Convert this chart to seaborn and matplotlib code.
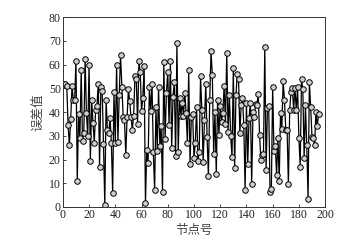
import numpy as np
import pandas as pd
import seaborn as sns
import matplotlib.pyplot as plt

# error value for each node
valores = [52, 52, 51, 34.5, 26, 37, 51, 45, 45, 61.5, 11, 39, 29, 57.5, 28, 31, 62.5, 39.5, 30, 60,
           19.5, 45, 35.5, 27, 41, 42.5, 52, 17, 50.5, 49, 26.5, 1, 45, 32.5, 31, 37.5, 27, 6, 48.5, 27,
           60, 27.5, 47, 64, 50.5, 38, 36.5, 22, 38, 49.5, 44.5, 38, 32.5, 38.5, 55, 54, 35, 61.5, 57, 40.5,
           46, 59.5, 1.5, 24, 18.5, 50.5, 40.5, 52, 23, 7, 42, 23.5, 50.5, 25.5, 34, 6.5, 61, 28.5, 48, 57,
           34.5, 61.5, 25, 46.5, 52.5, 21.5, 69, 23, 46, 38.5, 44, 38.5, 48, 39.5, 27, 57.5, 18, 38, 39, 20.5,
           27, 42, 19.5, 23, 55, 41, 19, 36.5, 52, 29.5, 13, 45, 65.5, 55.5, 22.5, 40, 14, 45, 30.5, 42.5,
           36, 39.5, 51, 35, 65, 31.5, 47, 30, 21, 58.5, 16.5, 47, 56, 54, 31, 43, 46, 34.5, 7, 44,
           18, 37.5, 44, 9.5, 40, 38, 43.5, 43, 47.5, 30.5, 20, 22, 22.5, 67.5, 15.5, 41.5, 42.5, 6.5, 7.5, 50.5,
           23.5, 25.5, 13.5, 29, 11, 39.5, 33, 53, 45, 32.5, 32.5, 9.5, 41, 48.5, 50, 41, 50, 41, 50.5, 29,
           17, 54, 49.5, 20.5, 43, 26, 3.5, 52.5, 42, 29.5, 29, 26, 40, 34, 39]
nodos = np.arange(1, len(valores) + 1)

df = pd.DataFrame({'nodo': nodos, 'error': valores})

sns.set_style('ticks')
plt.rcParams['font.family'] = ['Liberation Serif', 'Noto Sans CJK SC']
plt.rcParams['xtick.direction'] = 'in'
plt.rcParams['ytick.direction'] = 'in'

fig = plt.figure(figsize=(3.53, 2.47), dpi=100)
ax = fig.add_axes([0.178, 0.162, 0.743, 0.769])
sns.lineplot(data=df, x='nodo', y='error', ax=ax, color='black', linewidth=0.9,
             marker='o', markersize=4, markerfacecolor='#cfcfcf', markeredgecolor='black',
             markeredgewidth=0.7)
ax.set_xlim(0, 200)
ax.set_ylim(0, 80)
ax.set_xticks(range(0, 201, 20))
ax.set_yticks(range(0, 81, 10))
ax.tick_params(labelsize=8.5, length=2.5, width=0.6, pad=1.5, labelcolor='#222222')
for s in ax.spines.values():
    s.set_linewidth(0.7)
    s.set_color('#333333')
ax.set_xlabel('节点号', fontsize=9, family=['Noto Sans CJK SC'], labelpad=2, color='#444444')
ax.set_ylabel('误差值', fontsize=9, family=['Noto Sans CJK SC'], labelpad=3, color='#444444')
fig.savefig('out.png', dpi=100)
